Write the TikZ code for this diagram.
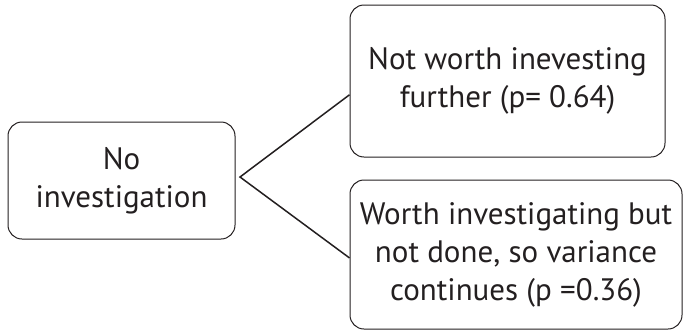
\documentclass[tikz,border=0pt]{standalone}
\usepackage{fontspec}
\setmainfont{PT Sans}
\usetikzlibrary{calc}
\definecolor{ink}{HTML}{231F20}
\tikzset{
  boxnode/.style={draw=ink, line width=1pt, rounded corners=14pt, text=ink, align=center,
    font=\fontsize{31}{38}\selectfont, inner sep=0pt},
  conn/.style={draw=ink, line width=1.5pt}
}
\begin{document}
\begin{tikzpicture}[x=1pt,y=-1pt]
\useasboundingbox (0,0) rectangle (683,330);
\clip (0,0) rectangle (683,330);
\node[boxnode, minimum width=227pt, minimum height=117pt] (a) at (121.5,180.5) {No\\investigation};
\node[boxnode, minimum width=315pt, minimum height=152pt] (b) at (507.5,81) {Not worth inevesting\\further (p= 0.64)};
\node[boxnode, minimum width=332pt, minimum height=149pt] (c) at (516,254.5) {Worth investigating but\\not done, so variance\\continues (p =0.36)};
\coordinate (apex) at (240,177);
\draw[conn] ($(b.south west)!0.41!(b.north west)$) -- (apex) -- ($(c.south west)!0.477!(c.north west)$);
\end{tikzpicture}
\end{document}
